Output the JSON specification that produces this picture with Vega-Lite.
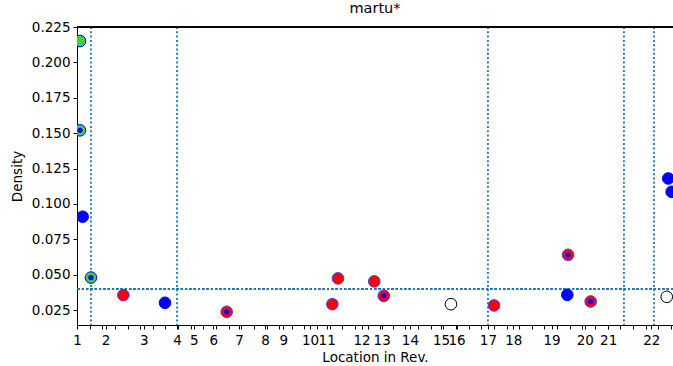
{
  "$schema": "https://vega.github.io/schema/vega-lite/v6.json",
  "autosize": {"type": "none"},
  "padding": {"left": 77, "top": 27, "right": 0, "bottom": 41},
  "width": 596,
  "height": 298,
  "background": "white",
  "config": {
    "font": "DejaVu Sans",
    "view": {"stroke": null},
    "axis": {"grid": false, "domainColor": "black", "tickColor": "black", "labelColor": "black", "titleColor": "black", "labelFont": "DejaVu Sans", "titleFont": "DejaVu Sans", "labelFontSize": 13.5, "titleFontSize": 13.5, "titleFontWeight": "normal", "tickSize": 4, "domainWidth": 1, "tickWidth": 1}
  },
  "title": {"text": "martu*", "fontSize": 14.5, "fontWeight": "normal", "font": "DejaVu Sans", "color": "black", "offset": 4},
  "datasets": {
    "points": [
      {"loc": 2.0, "density": 0.2151, "kind": "green", "inner": false},
      {"loc": 2.0, "density": 0.152, "kind": "green", "inner": true},
      {"loc": 3.8, "density": 0.091, "kind": "blue", "inner": false},
      {"loc": 9.4, "density": 0.048, "kind": "green", "inner": true},
      {"loc": 31.2, "density": 0.0356, "kind": "red", "inner": false},
      {"loc": 59.2, "density": 0.0302, "kind": "blue", "inner": false},
      {"loc": 100.7, "density": 0.0238, "kind": "red", "inner": true},
      {"loc": 171.8, "density": 0.0292, "kind": "red", "inner": false},
      {"loc": 175.6, "density": 0.0474, "kind": "red", "inner": false},
      {"loc": 200.0, "density": 0.0453, "kind": "red", "inner": false},
      {"loc": 206.4, "density": 0.0351, "kind": "red", "inner": true},
      {"loc": 251.6, "density": 0.0292, "kind": "open", "inner": false},
      {"loc": 280.6, "density": 0.0283, "kind": "red", "inner": false},
      {"loc": 330.4, "density": 0.0641, "kind": "red", "inner": true},
      {"loc": 329.9, "density": 0.0358, "kind": "blue", "inner": false},
      {"loc": 345.6, "density": 0.0311, "kind": "red", "inner": true},
      {"loc": 396.8, "density": 0.0344, "kind": "open", "inner": false},
      {"loc": 397.8, "density": 0.118, "kind": "blue", "inner": false},
      {"loc": 400.1, "density": 0.1086, "kind": "blue", "inner": false}
    ],
    "vlines": [
      {"loc": 9.4}, {"loc": 67.3}, {"loc": 276.5}, {"loc": 368.0}, {"loc": 388.2}
    ]
  },
  "layer": [
    {
      "data": {"name": "vlines"},
      "mark": {"type": "rule", "color": "#1f77b4", "strokeWidth": 1.8, "strokeDash": [2, 2.3]},
      "encoding": {
        "x": {
          "field": "loc", "type": "quantitative",
          "scale": {"domain": [0, 401], "nice": false, "zero": false},
          "axis": {
            "title": "Location in Rev.",
            "titlePadding": 4,
            "labelPadding": 4,
            "labelFlush": false,
            "labelOverlap": false,
            "labelBound": false,
            "tickCount": 1000,
            "values": [0, 19.2, 44.9, 67.3, 78.5, 91.7, 109, 126.5, 138.8, 156.8, 168, 191.5, 205, 224, 244.9, 255.4, 276.5, 293.5, 319.3, 341.7, 357.4, 386.4, 8.5, 17, 25.5, 34, 42.5, 51, 59.5, 68, 76.5, 85, 93.5, 102, 110.5, 119, 127.5, 136, 144.5, 153, 161.5, 170, 178.5, 187, 195.5, 204, 212.5, 221, 229.5, 238, 246.5, 255, 263.5, 272, 280.5, 289, 297.5, 306, 314.5, 323, 331.5, 340, 348.5, 357, 365.5, 374, 382.5, 391, 399.5],
            "labelExpr": "indexof([0, 19.2, 44.9, 67.3, 78.5, 91.7, 109, 126.5, 138.8, 156.8, 168, 191.5, 205, 224, 244.9, 255.4, 276.5, 293.5, 319.3, 341.7, 357.4, 386.4], datum.value) >= 0 ? '' + (indexof([0, 19.2, 44.9, 67.3, 78.5, 91.7, 109, 126.5, 138.8, 156.8, 168, 191.5, 205, 224, 244.9, 255.4, 276.5, 293.5, 319.3, 341.7, 357.4, 386.4], datum.value) + 1) : ''"
          }
        }
      }
    },
    {
      "data": {"name": "vlines"},
      "mark": {"type": "rule", "color": "#1f77b4", "strokeWidth": 1.8, "strokeDash": [2, 2.3]},
      "encoding": {
        "y": {"datum": 0.04, "type": "quantitative"}
      }
    },
    {
      "data": {"name": "vlines"},
      "mark": {"type": "rule", "color": "black", "strokeWidth": 1},
      "encoding": {
        "y": {"datum": 0.225, "type": "quantitative"}
      }
    },
    {
      "data": {"name": "points"},
      "mark": {"type": "point", "shape": "circle", "filled": false, "size": 135, "opacity": 1, "clip": true},
      "encoding": {
        "x": {"field": "loc", "type": "quantitative"},
        "y": {
          "field": "density", "type": "quantitative",
          "scale": {"domain": [0.0145, 0.225], "nice": false, "zero": false},
          "axis": {"title": "Density", "tickCount": 100, "values": [0.025, 0.05, 0.075, 0.1, 0.125, 0.15, 0.175, 0.2, 0.225], "format": ".3f", "labelPadding": 3, "titlePadding": 7, "labelFlush": false, "labelOverlap": false}
        },
        "fill": {"field": "kind", "type": "nominal", "scale": {"domain": ["green", "red", "blue", "open"], "range": ["#3ad43a", "#ff0000", "#0000ff", "#ffffff"]}, "legend": null},
        "stroke": {"field": "kind", "type": "nominal", "scale": {"domain": ["green", "red", "blue", "open"], "range": ["#0000ff", "#3a3aff", "#0000ff", "#000000"]}, "legend": null},
        "strokeWidth": {"field": "kind", "type": "nominal", "scale": {"domain": ["green", "red", "blue", "open"], "range": [1, 1, 1, 2]}, "legend": null}
      }
    },
    {
      "data": {"name": "points"},
      "transform": [{"filter": "datum.inner"}],
      "mark": {"type": "point", "shape": "circle", "filled": true, "size": 28, "color": "#0000ff", "opacity": 1, "clip": true},
      "encoding": {
        "x": {"field": "loc", "type": "quantitative"},
        "y": {"field": "density", "type": "quantitative"}
      }
    }
  ]
}
